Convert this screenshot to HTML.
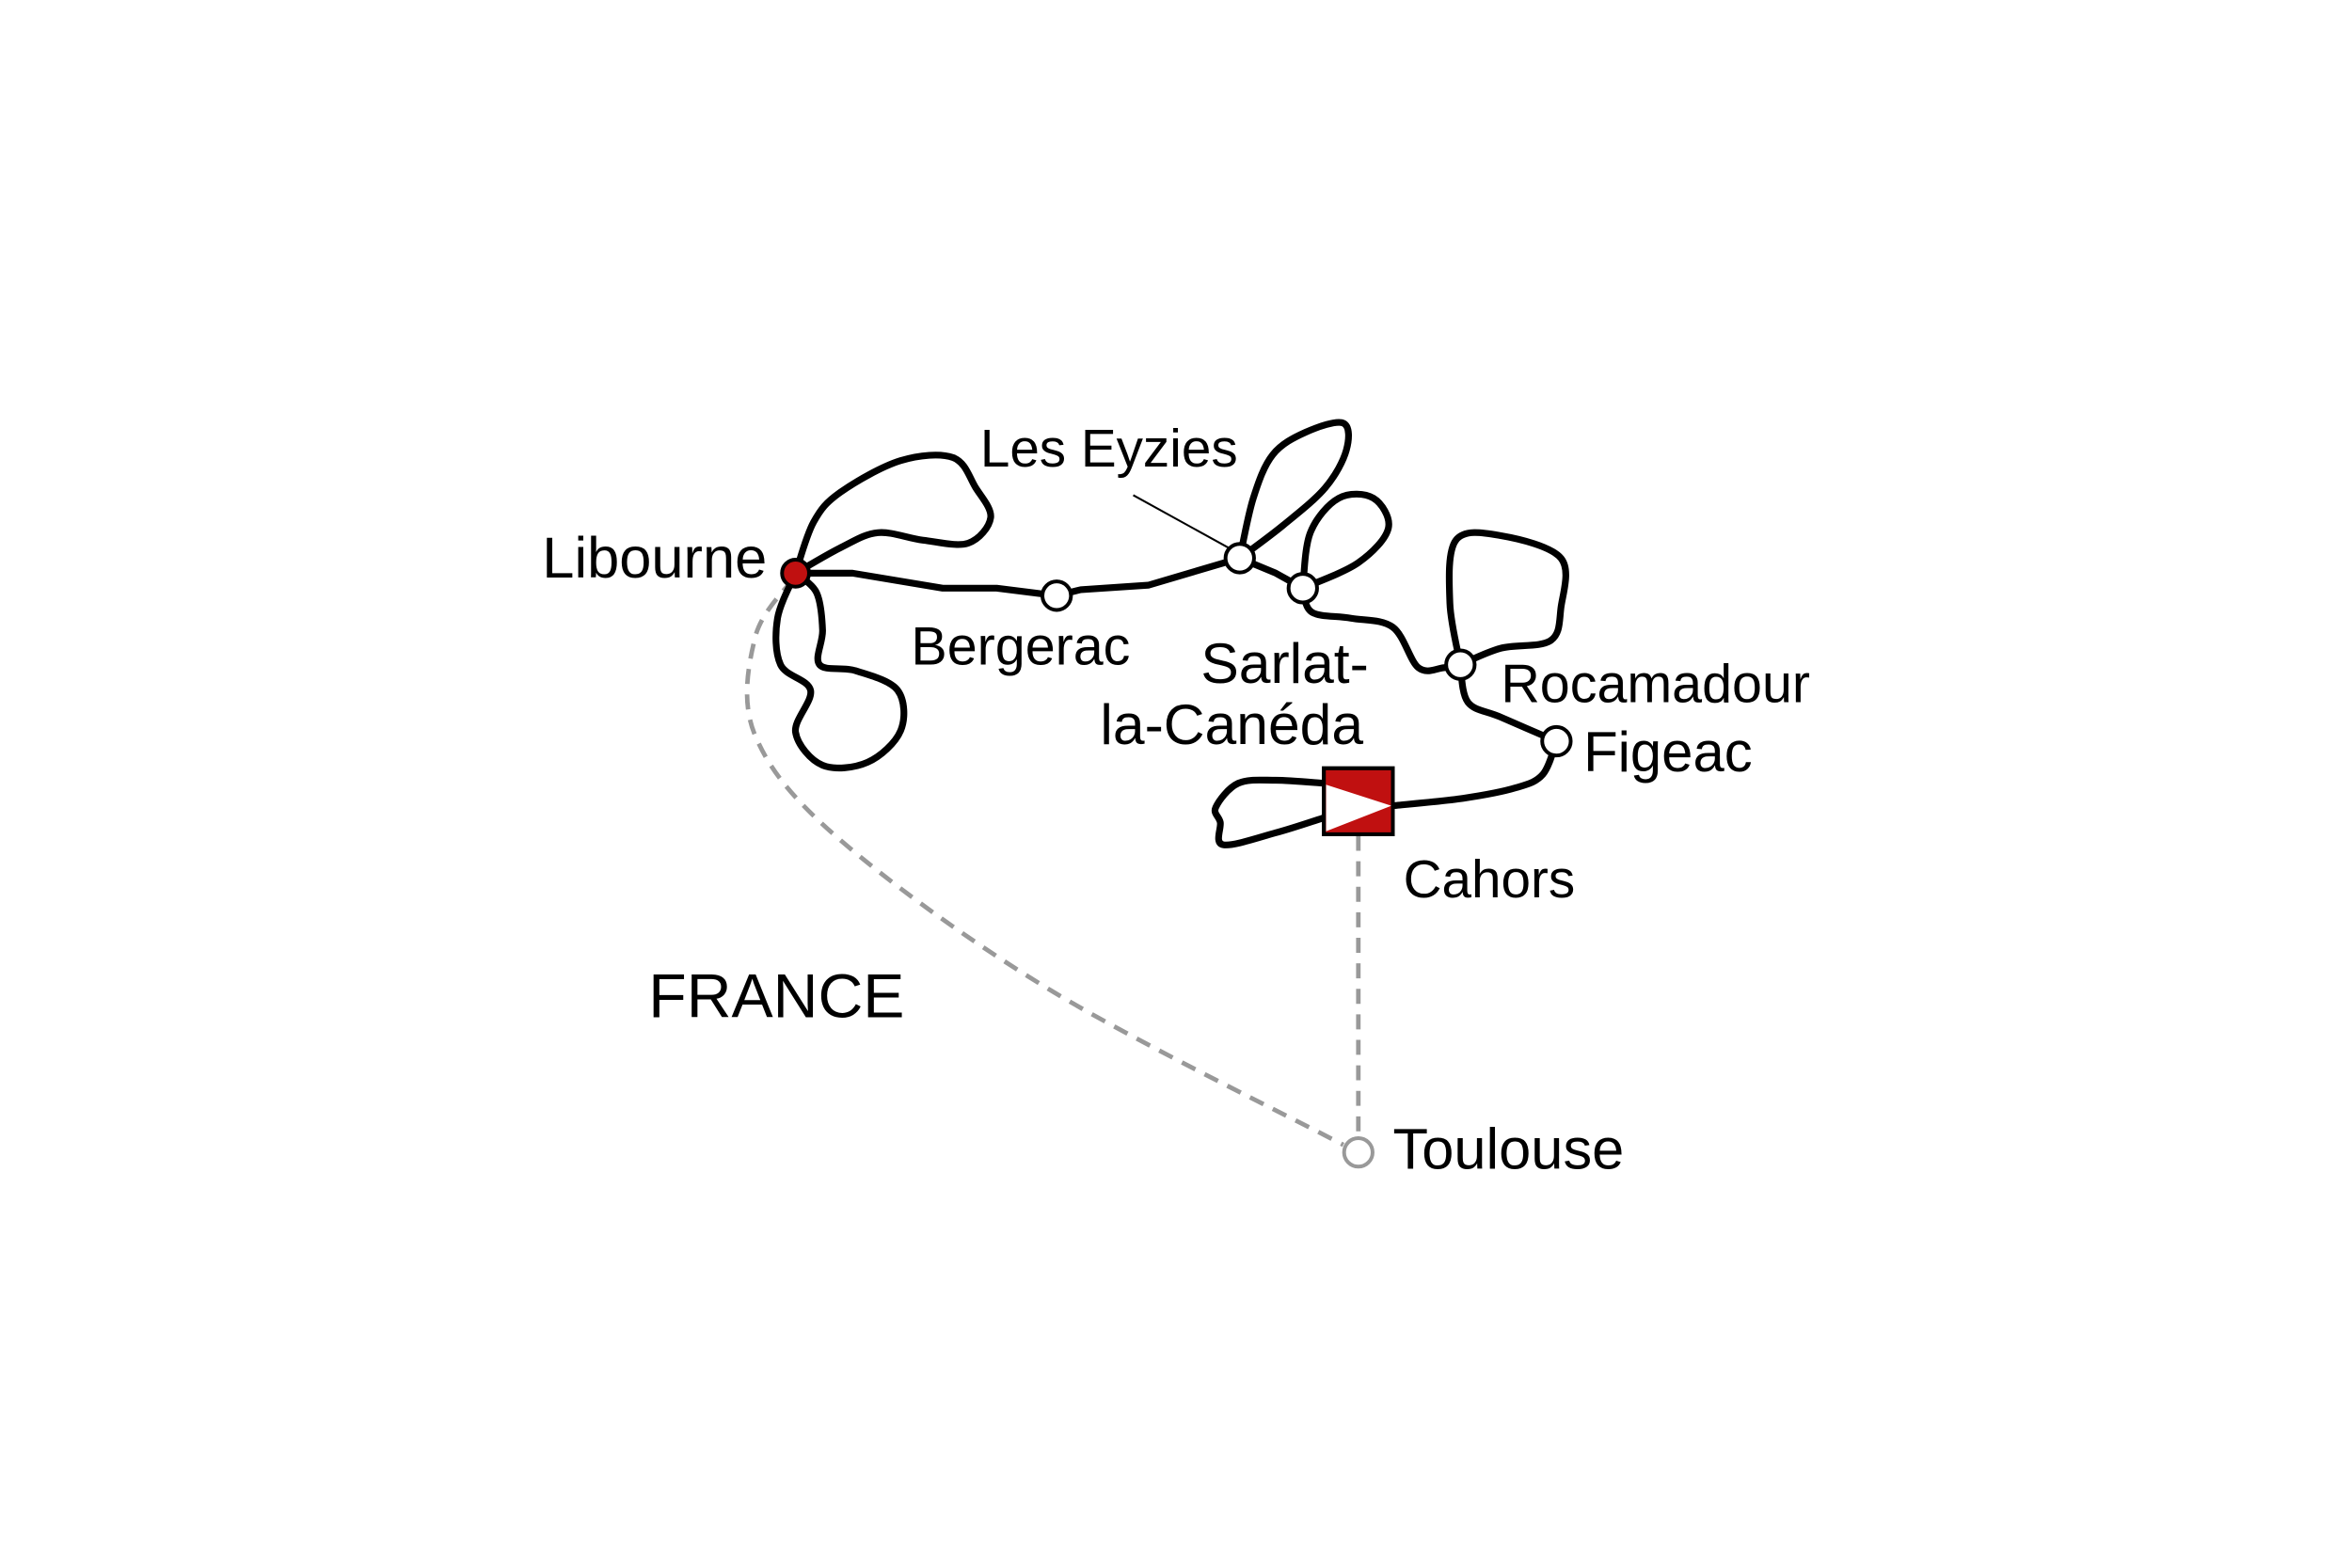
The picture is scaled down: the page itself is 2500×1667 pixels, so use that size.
<!DOCTYPE html>
<html><head><meta charset="utf-8"><style>
html,body{margin:0;padding:0;background:#fff;}
svg{display:block;}
text{font-family:"Liberation Sans",Arial,sans-serif;fill:#000;}
</style></head><body>
<svg id="s" width="2500" height="1667" viewBox="0 0 1567 1045" xmlns="http://www.w3.org/2000/svg">
<rect width="1567" height="1045" fill="#fff"/>
<g id="dash" fill="none" stroke="#999" stroke-width="3" stroke-dasharray="10,7"></g>
<g id="routes" fill="none" stroke="#000" stroke-width="4.5" stroke-linejoin="round" stroke-linecap="round"></g>
<line x1="755" y1="330" x2="822" y2="367" stroke="#000" stroke-width="1.3"/>
<g stroke="#000" stroke-width="2.5" fill="#fff">
<circle cx="704" cy="397" r="9.5"/>
<circle cx="826" cy="372" r="9.5"/>
<circle cx="868" cy="392" r="9.5"/>
<circle cx="973" cy="443" r="9.5"/>
<circle cx="1037" cy="494" r="9.5"/>
<circle cx="530" cy="382" r="9" fill="#c01010"/>
</g>
<circle cx="905" cy="768" r="9.5" fill="#fff" stroke="#999" stroke-width="2.5"/>
<rect x="882" y="512" width="46" height="44" fill="#c01010" stroke="#000" stroke-width="2.5"/>
<polygon points="883.5,523 927,537 883.5,554" fill="#fff"/>
<rect x="882" y="512" width="46" height="44" fill="none" stroke="#000" stroke-width="2.5"/>
<text x="511" y="385" font-size="38.5" text-anchor="end">Libourne</text>
<text x="607" y="443" font-size="36">Bergerac</text>
<text x="653" y="311" font-size="35.5">Les Eyzies</text>
<text x="800" y="455" font-size="38">Sarlat-</text>
<text x="733" y="496" font-size="38">la-Canéda</text>
<text x="1000" y="468" font-size="36">Rocamadour</text>
<text x="1055" y="514" font-size="37.5">Figeac</text>
<text x="935" y="598" font-size="35.5">Cahors</text>
<text x="928" y="779" font-size="38.5">Toulouse</text>
<text x="432" y="678" font-size="41.5">FRANCE</text>
</svg>
<script>
function cr(p){var d="M"+p[0][0]+","+p[0][1];for(var i=0;i<p.length-1;i++){var a=p[i-1]||p[i],b=p[i],c=p[i+1],e=p[i+2]||c;
d+=" C"+(b[0]+(c[0]-a[0])/6)+","+(b[1]+(c[1]-a[1])/6)+" "+(c[0]-(e[0]-b[0])/6)+","+(c[1]-(e[1]-b[1])/6)+" "+c[0]+","+c[1];}return d;}
function poly(p){return "M"+p.map(function(q){return q.join(",")}).join(" L");}
var R=document.getElementById("routes"),D=document.getElementById("dash"),NS="http://www.w3.org/2000/svg";
function add(g,d){var e=document.createElementNS(NS,"path");e.setAttribute("d",d);g.appendChild(e);}
add(R,poly([[530,382],[568,382],[628,392],[664,392],[704,397],[720,393],[765,390],[826,372],[850,382],[868,392]]));
add(R,cr([[868,392],[874,408],[900,412],[928,418],[945,445],[962,445],[973,443]]));
add(R,cr([[973,443],[978,468],[1000,478],[1037,494]]));
add(R,cr([[1037,494],[1028,516],[1010,525],[975,532],[928,537]]));
add(R,cr([[882,545],[850,555],[815,563],[813,548],[810,538],[825,522],[850,520],[882,522]]));
add(R,cr([[530,382],[542,348],[560,328],[600,307],[635,305],[650,325],[660,345],[645,362],[615,360],[585,355],[560,365],[530,382]]));
add(R,cr([[530,382],[518,412],[520,443],[540,460],[530,488],[548,510],[578,508],[600,487],[598,460],[570,447],[546,443],[548,420],[544,395],[530,382]]));
add(R,cr([[826,372],[835,332],[848,303],[870,288],[895,282],[897,300],[883,325],[855,350],[826,372]]));
add(R,cr([[868,392],[873,355],[892,332],[915,332],[925,352],[905,375],[868,392]]));
add(R,cr([[973,443],[966,402],[970,360],[1000,357],[1040,372],[1040,405],[1033,427],[1000,432],[973,443]]));
add(D,cr([[528,386],[503,425],[503,490],[560,560],[700,660],[895,763]]));
add(D,"M905,557 L905,758");
</script>
</body></html>
